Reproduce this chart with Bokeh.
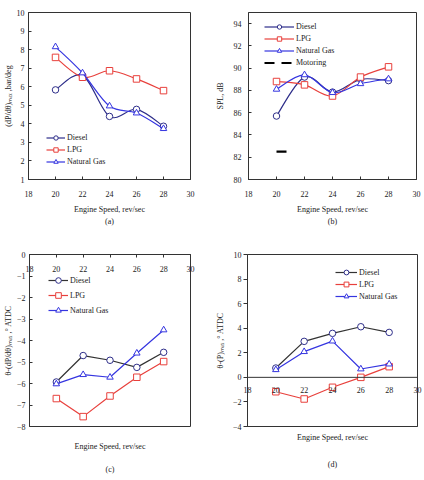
from bokeh.plotting import figure
from bokeh.layouts import column, row
from bokeh.models import Title, FixedTicker, Span, LinearAxis
from bokeh.embed import file_html
from bokeh.resources import INLINE

# ---------------- data ----------------
speed = [20, 22, 24, 26, 28]

a_diesel = [5.83, 6.61, 4.40, 4.78, 3.87]
a_lpg = [7.58, 6.51, 6.86, 6.42, 5.79]
a_ng = [8.15, 6.74, 4.96, 4.58, 3.74]

b_diesel = [85.7, 89.2, 87.85, 89.0, 88.88]
b_lpg = [88.8, 88.5, 87.5, 89.2, 90.12]
b_ng = [88.1, 89.4, 87.8, 88.6, 89.03]
motoring_x = [20.0, 20.76]
motoring_y = [82.5, 82.5]

c_diesel = [-5.93, -4.70, -4.92, -5.25, -4.55]
c_lpg = [-6.70, -7.54, -6.58, -5.71, -4.98]
c_ng = [-6.02, -5.59, -5.71, -4.59, -3.51]

d_diesel = [0.76, 2.93, 3.58, 4.12, 3.66]
d_lpg = [-1.17, -1.76, -0.81, 0.0, 0.87]
d_ng = [0.62, 2.09, 2.95, 0.68, 1.08]

x_ticks = [18, 20, 22, 24, 26, 28, 30]
a_yticks = [1, 2, 3, 4, 5, 6, 7, 8, 9, 10]
b_yticks = [80, 82, 84, 86, 88, 90, 92, 94]
c_yticks = [0, -1, -2, -3, -4, -5, -6, -7, -8]
d_yticks = [-4, -2, 0, 2, 4, 6, 8, 10]

C_DIESEL = "#2e2e8a"
C_DIESEL_LINE = "#333333"
C_LPG = "#e8403c"
C_NG = "#3535e0"
TXT = "#222222"
FONT = "Liberation Serif"
FS = "8px"


def smooth_ctrl(xs, ys):
    n = len(xs)
    out = dict(x0=[], y0=[], x1=[], y1=[], cx0=[], cy0=[], cx1=[], cy1=[])
    for i in range(n - 1):
        p0 = i - 1 if i > 0 else i
        p3 = i + 2 if i + 2 < n else i + 1
        out["x0"].append(xs[i]); out["y0"].append(ys[i])
        out["x1"].append(xs[i + 1]); out["y1"].append(ys[i + 1])
        out["cx0"].append(xs[i] + (xs[i + 1] - xs[p0]) / 6)
        out["cy0"].append(ys[i] + (ys[i + 1] - ys[p0]) / 6)
        out["cx1"].append(xs[i + 1] - (xs[p3] - xs[i]) / 6)
        out["cy1"].append(ys[i + 1] - (ys[p3] - ys[i]) / 6)
    return out


def style_axis(ax):
    ax.axis_line_color = "#333333"
    ax.major_tick_line_color = "#333333"
    ax.minor_tick_line_color = None
    ax.major_tick_in = 3
    ax.major_tick_out = 0
    ax.major_label_text_font = FONT
    ax.major_label_text_font_size = FS
    ax.major_label_text_color = TXT
    ax.axis_label_text_font = FONT
    ax.axis_label_text_font_size = FS
    ax.axis_label_text_font_style = "normal"
    ax.axis_label_text_color = TXT


def make_fig(yr, yticks, ylabel, borders, x_loc="below"):
    l, r, t, b = borders
    p = figure(width=212, height=240, x_range=(18, 30), y_range=yr,
               output_backend="svg", toolbar_location=None,
               x_axis_location=x_loc,
               min_border_left=l, min_border_right=r, min_border_top=t,
               min_border_bottom=b)
    p.grid.visible = False
    p.outline_line_color = "#333333"
    p.outline_line_width = 1
    p.background_fill_color = "white"
    p.border_fill_color = "white"
    p.xaxis.ticker = FixedTicker(ticks=x_ticks)
    p.yaxis.ticker = FixedTicker(ticks=yticks)
    style_axis(p.xaxis[0])
    style_axis(p.yaxis[0])
    p.yaxis.axis_label = ylabel
    p.yaxis.major_label_standoff = 4
    p.xaxis.major_label_standoff = 7
    return p


def style_legend(p, loc, gw, gh, spacing):
    lg = p.legend[0]
    lg.location = loc
    lg.border_line_color = None
    lg.background_fill_alpha = 0
    lg.padding = 0
    lg.margin = 0
    lg.spacing = spacing
    lg.glyph_width = gw
    lg.glyph_height = gh
    lg.label_height = gh
    lg.label_standoff = 2
    lg.label_text_font = FONT
    lg.label_text_font_size = FS
    lg.label_text_color = TXT


def add_series(p, ys, name, color, line_color, marker, smooth):
    if smooth:
        p.bezier(source=smooth_ctrl(speed, ys), x0="x0", y0="y0", x1="x1", y1="y1",
                 cx0="cx0", cy0="cy0", cx1="cx1", cy1="cy1",
                 line_color=line_color, line_width=1.2, legend_label=name)
    else:
        p.line(speed, ys, line_color=line_color, line_width=1.2, legend_label=name)
    p.scatter(speed, ys, marker=marker, size=6.5, line_color=color, line_width=1,
              fill_color="white", legend_label=name)


def add_bottom_titles(p, texts):
    for txt, st in texts:
        p.add_layout(Title(text=txt, align="center", text_font=FONT, text_font_size=FS,
                           text_font_style="normal", text_color=TXT, standoff=st), "below")


def add_label_axis(p, text, standoff):
    ax = LinearAxis(ticker=FixedTicker(ticks=[]), axis_label=text)
    ax.axis_line_color = None
    ax.major_tick_line_color = None
    ax.minor_tick_line_color = None
    ax.major_tick_in = 0
    ax.major_tick_out = 0
    ax.major_label_standoff = 0
    ax.axis_label_standoff = standoff
    ax.axis_label_text_font = FONT
    ax.axis_label_text_font_size = FS
    ax.axis_label_text_font_style = "normal"
    ax.axis_label_text_color = TXT
    p.add_layout(ax, "below")


# ---------------- (a) ----------------
pa = make_fig((1, 10), a_yticks, "(dP/dθ)ₘₐₓ ,bar/deg", (22, 22, 11, 61))
pa.xaxis.major_label_standoff = 11
pa.xaxis.axis_label = "Engine Speed, rev/sec"
pa.xaxis.axis_label_standoff = 5
pa.yaxis.axis_label_standoff = 1
add_series(pa, a_diesel, "Diesel", C_DIESEL, C_DIESEL, "circle", True)
add_series(pa, a_lpg, "LPG", C_LPG, C_LPG, "square", True)
add_series(pa, a_ng, "Natural Gas", C_NG, C_NG, "triangle", True)
style_legend(pa, (18, 12), 19, 11, 1)
add_bottom_titles(pa, [("(a)", -4)])

# ---------------- (b) ----------------
pb = make_fig((80, 95), b_yticks, "SPL, dB", (36, 8, 12, 60))
pb.xaxis.major_label_standoff = 11
pb.xaxis.axis_label = "Engine Speed, rev/sec"
pb.xaxis.axis_label_standoff = 5
pb.yaxis.major_label_standoff = 7
pb.yaxis.axis_label_standoff = 6
add_series(pb, b_diesel, "Diesel", C_DIESEL, C_DIESEL, "circle", True)
add_series(pb, b_lpg, "LPG", C_LPG, C_LPG, "square", True)
add_series(pb, b_ng, "Natural Gas", C_NG, C_NG, "triangle", True)
pb.line(motoring_x, motoring_y, line_color="black", line_width=2.2,
        line_dash="10 7", legend_label="Motoring")
style_legend(pb, (16, 111), 30, 11, 1)
add_bottom_titles(pb, [("(b)", -4)])

# ---------------- (c) ----------------
# x axis sits on the y=0 line at the top of the frame, labels hang below it
pc = make_fig((-8, 0), c_yticks, "θ-(dP/dθ)ₘₐₓ ,° ATDC", (29, 22, 14, 48), x_loc="above")
pc.xaxis.major_tick_in = 3
pc.xaxis.major_tick_out = 0
pc.xaxis.major_label_standoff = -17
pc.yaxis.axis_label_standoff = 1
add_series(pc, c_diesel, "Diesel", C_DIESEL, C_DIESEL_LINE, "circle", False)
add_series(pc, c_lpg, "LPG", C_LPG, C_LPG, "square", False)
add_series(pc, c_ng, "Natural Gas", C_NG, C_NG, "triangle", False)
style_legend(pc, (19, 109), 20, 14, 1)
add_label_axis(pc, "Engine Speed, rev/sec", 15)
add_label_axis(pc, "(c)", 11)

# ---------------- (d) ----------------
pd_ = make_fig((-4, 10), d_yticks, "θ-(P)ₘₐₓ ,° ATDC", (32, 7, 14, 53))
pd_.xaxis.major_tick_in = 0
pd_.xaxis.major_tick_out = 0
pd_.xaxis.major_label_standoff = -40
pd_.yaxis.major_tick_in = 0
pd_.yaxis.major_tick_out = 4
pd_.yaxis.major_label_standoff = 2
pd_.yaxis.axis_label_standoff = 5
pd_.add_layout(Span(location=0, dimension="width", line_color="#333333", line_width=1))
add_series(pd_, d_diesel, "Diesel", C_DIESEL, C_DIESEL_LINE, "circle", False)
add_series(pd_, d_lpg, "LPG", C_LPG, C_LPG, "square", False)
add_series(pd_, d_ng, "Natural Gas", C_NG, C_NG, "triangle", False)
style_legend(pd_, (88, 124), 22, 12, 0)
add_bottom_titles(pd_, [("Engine Speed, rev/sec", 8), ("(d)", 24)])

layout = column(row(pa, pb), row(pc, pd_))
open("out.html", "w").write(file_html(layout, INLINE))
